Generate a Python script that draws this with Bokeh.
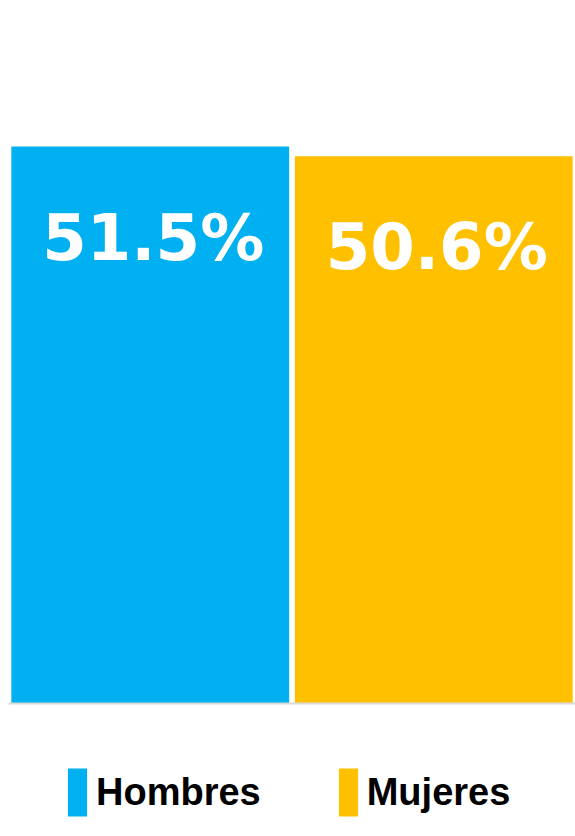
from bokeh.plotting import figure
from bokeh.models import ColumnDataSource, FactorRange, Range1d, Span
from bokeh.core.properties import value
from bokeh.embed import file_html
from bokeh.resources import INLINE

categories = ["Hombres", "Mujeres"]
values = [51.5, 50.6]
labels = ["51.5%", "50.6%"]
colors = ["#00B0F0", "#FFC000"]

src = ColumnDataSource(dict(cat=categories, val=values, lab=labels, col=colors))

p = figure(width=575, height=836, output_backend="svg", toolbar_location=None,
           x_range=FactorRange(*categories, range_padding=0),
           y_range=Range1d(-12.3, 65.0),
           min_border=0, min_border_left=8, outline_line_color=None)
p.axis.visible = False
p.grid.visible = False
p.background_fill_color = "white"

p.vbar(x="cat", top="val", bottom=0, width=0.98, fill_color="col", line_color=None,
       source=src, legend_field="cat")

p.add_layout(Span(location=0, dimension="width", line_color="#D9D9D9", line_width=2))

p.text(x="cat", y="val", text="lab", source=src, text_align="center",
       text_baseline="alphabetic", y_offset=91, x_offset=3,
       text_color="white", text_font=value("DejaVu Sans"), text_font_style="bold",
       text_font_size="64px")

lg = p.legend[0]
lg.orientation = "horizontal"
lg.location = (57, 14)
lg.padding = 0
lg.margin = 0
lg.spacing = 75
lg.glyph_width = 24
lg.glyph_height = 60
lg.label_standoff = 7
lg.border_line_color = None
lg.background_fill_alpha = 0
lg.label_text_font = "Liberation Sans"
lg.label_text_font_style = "bold"
lg.label_text_font_size = "38px"
lg.label_text_color = "black"

open("out.html", "w").write(file_html(p, INLINE))
